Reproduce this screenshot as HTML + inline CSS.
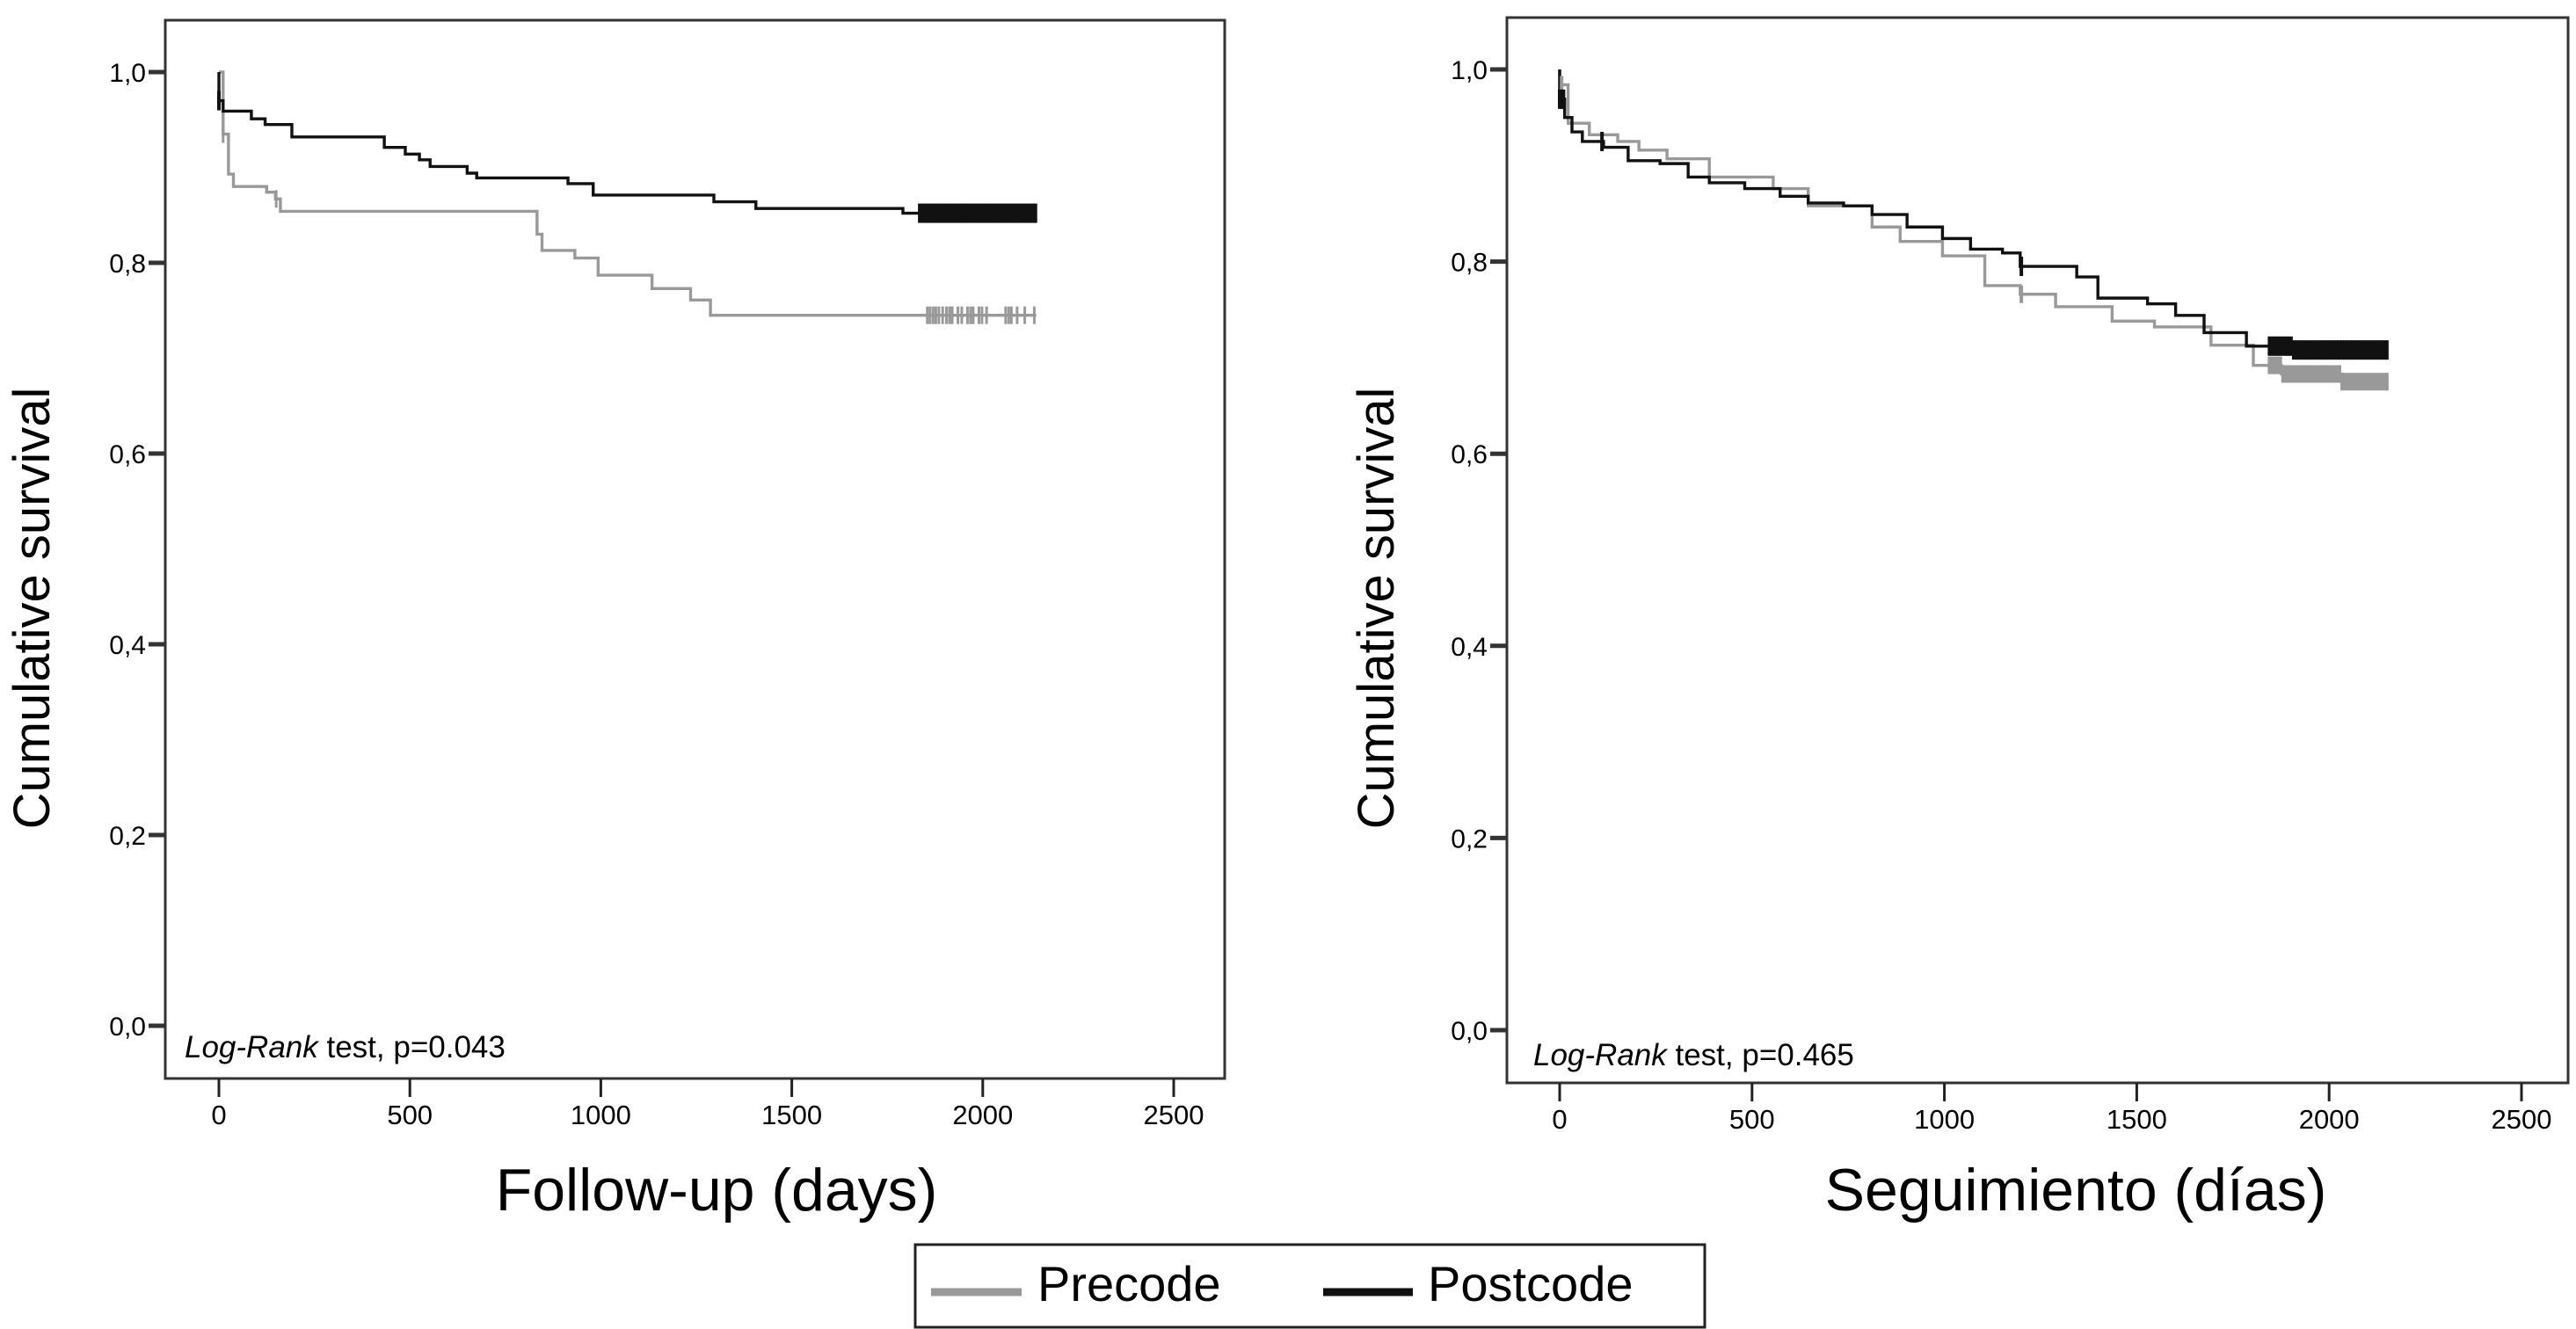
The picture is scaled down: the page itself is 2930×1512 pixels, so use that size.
<!DOCTYPE html>
<html><head><meta charset="utf-8">
<style>
html,body{margin:0;padding:0;background:#fff;}
svg{display:block;}
text{font-family:"Liberation Sans",sans-serif;}
</style></head>
<body>
<svg id="fig" width="2930" height="1512" viewBox="0 0 2930 1512" xmlns="http://www.w3.org/2000/svg">
<rect x="0" y="0" width="2930" height="1512" fill="#fff"/>
<g id="left"></g>
<g id="right"></g>
<g>
<rect x="1041" y="1416" width="898" height="94" fill="#fff" stroke="#222" stroke-width="3"/>
<g>
<line x1="1059" y1="1470" x2="1162" y2="1470" stroke="#999" stroke-width="9"/>
<text x="1180" y="1480" font-size="56" fill="#000">Precode</text></g>
<g>
<line x1="1505" y1="1470" x2="1607" y2="1470" stroke="#111" stroke-width="9"/>
<text x="1624" y="1480" font-size="56" fill="#000">Postcode</text></g>
</g>
</svg>
<script>
const xTicks=[0,500,1000,1500,2000,2500];
const yTicks=[0,0.2,0.4,0.6,0.8,1.0];
const yTickLabels=["0,0","0,2","0,4","0,6","0,8","1,0"];
// Left panel series (step-after points: time, survival)
const leftPostTimes=[0,0,11,85,121,191,433,488,525,553,650,675,914,980,1296,1406,1791,2140];
const leftPostSurv=[1.0,0.970,0.959,0.951,0.945,0.932,0.921,0.914,0.908,0.901,0.894,0.889,0.883,0.871,0.864,0.857,0.852,0.852];
const leftPreTimes=[0,11,25,38,125,148,161,833,846,932,993,1134,1235,1287,2140];
const leftPreSurv=[1.0,0.935,0.893,0.880,0.874,0.867,0.854,0.830,0.813,0.805,0.787,0.773,0.761,0.745,0.745];
const leftPostCens=[0,1835,1843,1851,1859,1867,1875,1883,1891,1899,1907,1915,1923,1931,1939,1947,1955,1963,1971,1979,1987,1995,2003,2011,2019,2027,2035,2043,2051,2059,2067,2075,2083,2091,2099,2107,2115,2123,2131,2138];
const leftPreCens=[11,150,1855,1862,1870,1877,1885,1895,1905,1913,1920,1935,1945,1960,1968,1975,1990,1998,2010,2060,2068,2075,2090,2110,2135];
// Right panel series
const rightPostTimes=[0,0,13,32,59,114,178,261,334,389,481,573,646,738,812,903,995,1068,1151,1197,1344,1399,1528,1601,1675,1785,1858,1905,2152];
const rightPostSurv=[1.0,0.969,0.950,0.935,0.925,0.919,0.905,0.902,0.888,0.882,0.876,0.868,0.861,0.858,0.849,0.836,0.824,0.813,0.809,0.795,0.784,0.762,0.756,0.744,0.726,0.712,0.712,0.708,0.708];
const rightPreTimes=[0,0,22,77,151,206,279,389,555,646,812,885,995,1105,1197,1289,1436,1546,1693,1803,1876,2032,2152];
const rightPreSurv=[1.0,0.984,0.944,0.932,0.925,0.916,0.907,0.888,0.876,0.858,0.836,0.821,0.806,0.775,0.766,0.753,0.738,0.732,0.713,0.692,0.683,0.675,0.675];
const rightPostCens=[0,5,10,110,1200,1845,1852,1859,1866,1873,1880,1887,1894,1901,1908,1915,1922,1929,1936,1943,1950,1957,1964,1971,1978,1985,1992,1999,2006,2013,2020,2027,2034,2041,2048,2055,2062,2069,2076,2083,2090,2097,2104,2111,2118,2125,2132,2139,2146,2150];
const rightPreCens=[5,1200,1845,1852,1859,1866,1873,1880,1887,1894,1901,1908,1915,1922,1929,1936,1943,1950,1957,1964,1971,1978,1985,1992,1999,2006,2013,2020,2027,2034,2041,2048,2055,2062,2069,2076,2083,2090,2097,2104,2111,2118,2125,2132,2139,2146,2150];

const NS="http://www.w3.org/2000/svg";
function mk(parent,tag,attrs){const e=document.createElementNS(NS,tag);for(const k in attrs)e.setAttribute(k,attrs[k]);parent.appendChild(e);return e;}

function panel(g,cfg){
  const X=t=>cfg.x0+t*cfg.pxDay;
  const Y=s=>cfg.y0-s*cfg.pxUnit;
  const box=mk(g,'rect',{x:cfg.left,y:cfg.top,width:cfg.right-cfg.left,height:cfg.bottom-cfg.top,fill:'none',stroke:'#333','stroke-width':3});
  
  
  xTicks.forEach(t=>{
    const l=mk(g,'line',{x1:X(t),y1:cfg.bottom,x2:X(t),y2:cfg.bottom+21,stroke:'#222','stroke-width':3});
    
    
    const tx=mk(g,'text',{x:X(t),y:cfg.bottom+52,'font-size':31,'text-anchor':'middle',fill:'#000'});
    tx.textContent=String(t);
    
    
  });
  yTicks.forEach((v,i)=>{
    const l=mk(g,'line',{x1:cfg.left-19,y1:Y(v),x2:cfg.left,y2:Y(v),stroke:'#333','stroke-width':5});
    
    
    const tx=mk(g,'text',{x:cfg.left-22,y:Y(v)+11,'font-size':30,'text-anchor':'end',fill:'#000'});
    tx.textContent=yTickLabels[i];
    
    
  });
  function step(times,surv,color,name){
    let d='M'+X(times[0])+','+Y(surv[0]);
    for(let i=1;i<times.length;i++){d+=' H'+X(times[i])+' V'+Y(surv[i]);}
    const p=mk(g,'path',{d:d,fill:'none',stroke:color,'stroke-width':3.4});
    
    
    return (t)=>{let s=surv[0];for(let i=0;i<times.length;i++){if(times[i]<=t)s=surv[i];}return s;};
  }
  function cens(arr,fn,color,name,h,w){
    arr.forEach(t=>{
      const y=Y(fn(t));
      const l=mk(g,'line',{x1:X(t),y1:y-h,x2:X(t),y2:y+h,stroke:color,'stroke-width':w});
      
      
    });
  }
  const fPre=step(cfg.preT,cfg.preS,'#999','precode-curve');
  const fPost=step(cfg.postT,cfg.postS,'#111','postcode-curve');
  cens(cfg.preC,fPre,'#999','precode-censor-mark',cfg.preH,cfg.preW);
  cens(cfg.postC,fPost,'#111','postcode-censor-mark',11,4);
  const lr=mk(g,'text',{x:cfg.lrX,y:cfg.lrY,'font-size':35,fill:'#000'});
  
  
  const it=mk(lr,'tspan',{'font-style':'italic'});it.textContent='Log-Rank';
  const rest=mk(lr,'tspan',{});rest.textContent=' test, '+cfg.pText;
  const xt=mk(g,'text',{x:cfg.xtX,y:cfg.xtY,'font-size':68,'text-anchor':'middle',fill:'#000'});
  xt.textContent=cfg.xTitle;
  
  
  const yt=mk(g,'text',{x:0,y:0,'font-size':58,'text-anchor':'middle',fill:'#000',transform:'translate('+cfg.ytX+','+cfg.ytY+') rotate(-90)'});
  yt.textContent='Cumulative survival';
  
  
}
panel(document.getElementById('left'),{left:188,right:1393,top:23,bottom:1227,x0:249,pxDay:0.4344,y0:1167,pxUnit:1085,
  preT:leftPreTimes,preS:leftPreSurv,postT:leftPostTimes,postS:leftPostSurv,preC:leftPreCens,postC:leftPostCens,preH:10,preW:3,
  lrX:210,lrY:1203,pText:'p=0.043',xTitle:'Follow-up (days)',xtX:815,xtY:1377,ytX:56,ytY:692});
panel(document.getElementById('right'),{left:1714,right:2921,top:20,bottom:1232,x0:1774,pxDay:0.4376,y0:1172,pxUnit:1093,
  preT:rightPreTimes,preS:rightPreSurv,postT:rightPostTimes,postS:rightPostSurv,preC:rightPreCens,postC:rightPostCens,preH:10,preW:4,
  lrX:1744,lrY:1212,pText:'p=0.465',xTitle:'Seguimiento (días)',xtX:2361,xtY:1377,ytX:1585,ytY:692});
</script>
</body></html>
